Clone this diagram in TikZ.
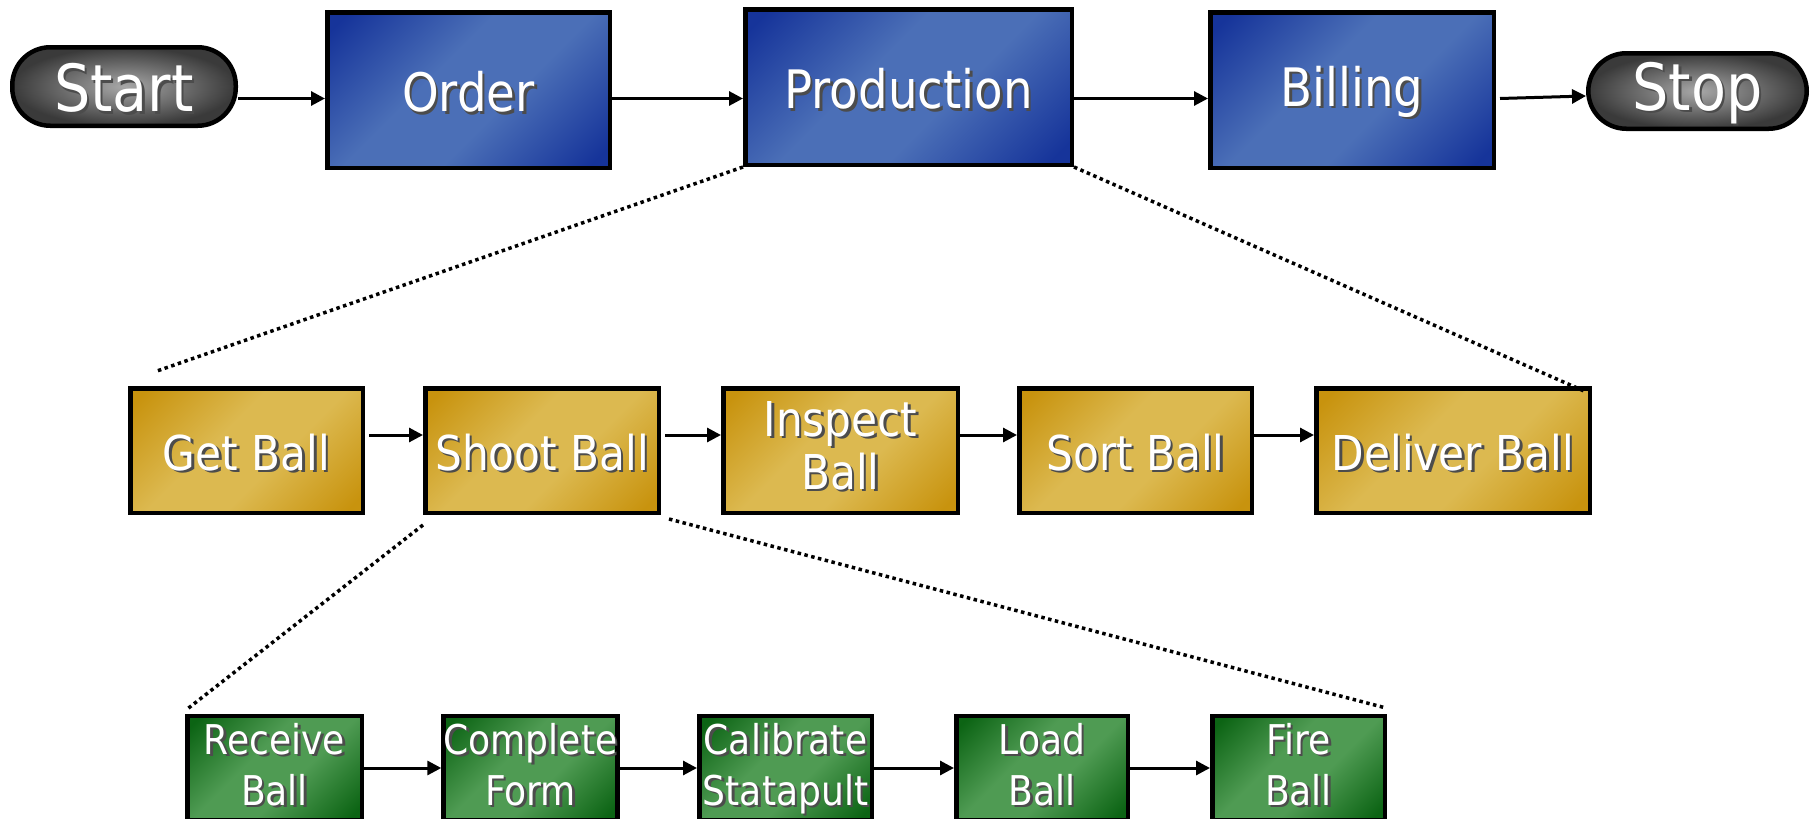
\documentclass[tikz,border=0pt]{standalone}
\usepackage{fontspec}
\setmainfont{DejaVu Sans}[FakeStretch=0.88]
\usetikzlibrary{arrows.meta,calc}

\definecolor{bluedark}{HTML}{16349A}
\definecolor{bluelight}{HTML}{4B6FB7}
\definecolor{golddark}{HTML}{C8930E}
\definecolor{goldlight}{HTML}{DCB950}
\definecolor{greendark}{HTML}{0C6414}
\definecolor{greenlight}{HTML}{4F9B53}
\definecolor{capinner}{HTML}{A8A8A8}
\definecolor{capouter}{HTML}{3A3A3A}

% diagonal gradients: dark corners, light band through the middle
\pgfdeclarehorizontalshading{bluediag}{100bp}{color(0bp)=(bluedark); color(18bp)=(bluedark); color(42bp)=(bluelight); color(58bp)=(bluelight); color(82bp)=(bluedark); color(100bp)=(bluedark)}
\pgfdeclarehorizontalshading{golddiag}{100bp}{color(0bp)=(golddark); color(18bp)=(golddark); color(42bp)=(goldlight); color(58bp)=(goldlight); color(82bp)=(golddark); color(100bp)=(golddark)}
\pgfdeclarehorizontalshading{greendiag}{100bp}{color(0bp)=(greendark); color(18bp)=(greendark); color(42bp)=(greenlight); color(58bp)=(greenlight); color(82bp)=(greendark); color(100bp)=(greendark)}

% white label with a dark drop shadow, set a little below the centre
\newcommand\shd[1]{\leavevmode\raisebox{-3pt}[\height][\depth]{\rlap{\kern2.5pt\raisebox{-2.5pt}{\color{black!70}#1}}#1}}
\newcommand\twolines[2]{\shd{\begin{tabular}{@{}c@{}}#1\\#2\end{tabular}}}

\tikzset{
  shadebox/.style={draw=black, line width=4.5pt, inner sep=0pt, text=white, shading angle=-45},
  topbox/.style={shadebox, shading=bluediag, minimum height=155.5pt, font=\fontsize{53}{60}\selectfont},
  midbox/.style={shadebox, shading=golddiag, minimum height=124.5pt, font=\fontsize{48}{53}\selectfont},
  lowbox/.style={shadebox, shading=greendiag, minimum height=93.5pt, minimum width=172.5pt, font=\fontsize{41}{51}\selectfont},
  capsule/.style={draw=black, line width=4.5pt, rounded corners=38pt, inner sep=0pt, inner color=capinner, outer color=capouter, text=white, font=\fontsize{65}{70}\selectfont},
  flow/.style={line width=3pt, -{Triangle[length=14pt,width=14pt]}},
  zoomline/.style={line width=3.5pt, dash pattern=on 3.5pt off 3.5pt}
}

\begin{document}
\begin{tikzpicture}[x=1pt, y=-1pt]
  \fill[white] (0,0) rectangle (1818,819);
  \useasboundingbox (0,0) rectangle (1818,819);

  % top level process
  \node[capsule, minimum width=223.5pt, minimum height=78.5pt] (start) at (124,86.5) {\shd{Start}};
  \node[topbox, minimum width=282.5pt] (order) at (468.5,90) {\shd{Order}};
  \node[topbox, minimum width=326.5pt] (prod) at (908.5,87) {\shd{Production}};
  \node[topbox, minimum width=283.5pt] (bill) at (1352,90) {\shd{Billing}};
  \node[capsule, minimum width=218.5pt, minimum height=75.5pt] (stop) at (1697.5,91) {\shd{Stop}};

  % production steps
  \node[midbox, minimum width=232.5pt] (get) at (246.5,450.5) {\shd{Get Ball}};
  \node[midbox, minimum width=233.5pt] (shoot) at (542,450.5) {\shd{Shoot Ball}};
  \node[midbox, minimum width=234.5pt] (inspect) at (840.5,450.5) {\twolines{Inspect}{Ball}};
  \node[midbox, minimum width=232.5pt] (sort) at (1135.5,450.5) {\shd{Sort Ball}};
  \node[midbox, minimum width=273.5pt] (deliver) at (1453,450.5) {\shd{Deliver Ball}};

  % shooting steps
  \node[lowbox, minimum width=174.5pt] (receive) at (274.5,768) {\twolines{Receive}{Ball}};
  \node[lowbox] (complete) at (530.5,768) {\twolines{Complete}{Form}};
  \node[lowbox] (calibrate) at (785.5,768) {\twolines{Calibrate}{Statapult}};
  \node[lowbox, minimum width=171.5pt] (load) at (1042,768) {\twolines{Load}{Ball}};
  \node[lowbox] (fire) at (1298.5,768) {\twolines{Fire}{Ball}};

  % connector rows
  \coordinate (rowtop) at (0,98.5);
  \coordinate (rowmid) at (0,435);

  \draw[flow] (start.east |- rowtop) -- (order.west |- rowtop);
  \draw[flow] (order.east |- rowtop) -- (prod.west |- rowtop);
  \draw[flow] (prod.east |- rowtop) -- (bill.west |- rowtop);
  \draw[flow] ([xshift=4pt]bill.east |- rowtop) -- ([yshift=-5pt]stop.west);

  \draw[flow] ([xshift=4pt]get.east |- rowmid) -- (shoot.west |- rowmid);
  \draw[flow] ([xshift=4pt]shoot.east |- rowmid) -- (inspect.west |- rowmid);
  \draw[flow] (inspect.east |- rowmid) -- (sort.west |- rowmid);
  \draw[flow] (sort.east |- rowmid) -- (deliver.west |- rowmid);

  \draw[flow] (receive.east) -- (complete.west);
  \draw[flow] (complete.east) -- (calibrate.west);
  \draw[flow] (calibrate.east) -- (load.west);
  \draw[flow] (load.east) -- (fire.west);

  % expansion guides
  \coordinate (p1) at (157,371);
  \coordinate (p2) at (1584,391);
  \coordinate (p3) at (186,710);
  \coordinate (p4) at (1386,708);
  \draw[zoomline] (prod.south west) -- (p1);
  \draw[zoomline] (prod.south east) -- (p2);
  \draw[zoomline] ([yshift=-10pt]shoot.south west) -- (p3);
  \draw[zoomline] ([shift={(8pt,-4pt)}]shoot.south east) -- (p4);
\end{tikzpicture}
\end{document}
